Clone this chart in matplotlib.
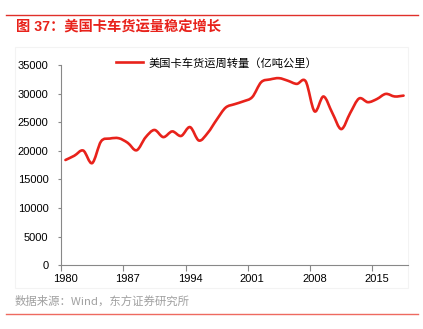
import numpy as np
import matplotlib
matplotlib.use("Agg")
from matplotlib import pyplot as plt
from matplotlib.path import Path
from matplotlib.patches import PathPatch, Rectangle
from matplotlib.lines import Line2D

# data (亿吨公里)
years = list(range(1980, 2019))
freight = [18400, 19150, 20050, 17850, 21650, 22150, 22200, 21400, 20100, 22350,
           23650, 22400, 23400, 22600, 24150, 21800, 23150, 25450, 27550, 28150,
           28650, 29400, 32000, 32480, 32700, 32250, 31700, 32150, 26900, 29500,
           26600, 23800, 26600, 29150, 28500, 29050, 29950, 29500, 29650]
tick_years = [1980, 1987, 1994, 2001, 2008, 2015]
yticks = [0, 5000, 10000, 15000, 20000, 25000, 30000, 35000]

title = "图 37：美国卡车货运量稳定增长"
series_name = "美国卡车货运周转量（亿吨公里）"
source = "数据来源：Wind，东方证券研究所"

RED = "#E8221B"
LAT = ["Liberation Sans", "Noto Sans CJK SC"]
CJK = ["Noto Sans CJK SC", "DejaVu Sans"]


def smooth_path(xs, ys, t=1.0 / 6):
    # catmull-rom style bezier through the data points (like a spreadsheet "smooth line")
    pts = np.column_stack([xs, ys]).astype(float)
    verts = [pts[0]]
    codes = [Path.MOVETO]
    n = len(pts)
    for i in range(n - 1):
        p0 = pts[i - 1] if i > 0 else pts[i]
        p1 = pts[i]
        p2 = pts[i + 1]
        p3 = pts[i + 2] if i + 2 < n else pts[i + 1]
        c1 = p1 + (p2 - p0) * t
        c2 = p2 - (p3 - p1) * t
        verts += [c1, c2, p2]
        codes += [Path.CURVE4] * 3
    return Path(verts, codes)


fig = plt.figure(figsize=(4.23, 3.29), dpi=100)
W, H = 423.0, 329.0

# faint chart frame, behind everything
fig.patches.append(Rectangle((15 / W, 1 - 288 / H), 393 / W, 241 / H, fill=False,
                             ec="#F3F3F3", lw=0.8, transform=fig.transFigure, zorder=-5))

# header / footer decoration
fig.add_artist(Line2D([6 / W, 418 / W], [1 - 15 / H] * 2, color="#E0302A", lw=1.0))
fig.add_artist(Line2D([6 / W, 418 / W], [1 - 313.5 / H] * 2, color="#EE6A60", lw=1.0))
fig.text(16 / W, 1 - 27 / H, title, color=RED, fontsize=10.3, fontweight="bold",
         family=LAT, va="center", ha="left")
fig.text(15 / W, 1 - 301.5 / H, source, color="#A0A0A0", fontsize=8.2,
         family=CJK, va="center", ha="left")

ax = fig.add_axes([61 / W, 1 - 265.3 / H, 347 / W, 200.3 / H])
idx = np.arange(len(years))
patch = PathPatch(smooth_path(idx, freight), fill=False, ec=RED, lw=1.9,
                  capstyle="round", joinstyle="round")
ax.add_patch(patch)
ax.set_xlim(-0.5, len(years) - 0.5)
ax.set_ylim(0, 35000)

# category axis: ticks on boundaries, labels at the category centres
ax.set_xticks([years.index(y) - 0.5 for y in tick_years])
ax.set_xticklabels([])
ax.set_xticks([years.index(y) for y in tick_years], minor=True)
ax.set_xticklabels([str(y) for y in tick_years], minor=True, family=LAT, fontsize=8)
ax.tick_params(axis="x", which="major", length=4, width=0.8, color="#888888", direction="out")
ax.tick_params(axis="x", which="minor", length=0, pad=6.5)

ax.set_yticks(yticks)
ax.set_yticklabels([str(v) for v in yticks], family=LAT, fontsize=8)
ax.tick_params(axis="y", length=2.5, width=0.8, color="#888888", direction="out", pad=6.5)

for s in ["top", "right"]:
    ax.spines[s].set_visible(False)
for s in ["left", "bottom"]:
    ax.spines[s].set_color("#888888")
    ax.spines[s].set_linewidth(0.8)

handle = Line2D([], [], color=RED, lw=1.9)
leg = ax.legend([handle], [series_name], loc="center left", frameon=False,
                bbox_to_anchor=(55 / 347, 1.01), prop={"family": CJK, "size": 8.1},
                handlelength=2.4, handletextpad=0.5, borderaxespad=0, borderpad=0)

fig.savefig("out.png", dpi=100)
